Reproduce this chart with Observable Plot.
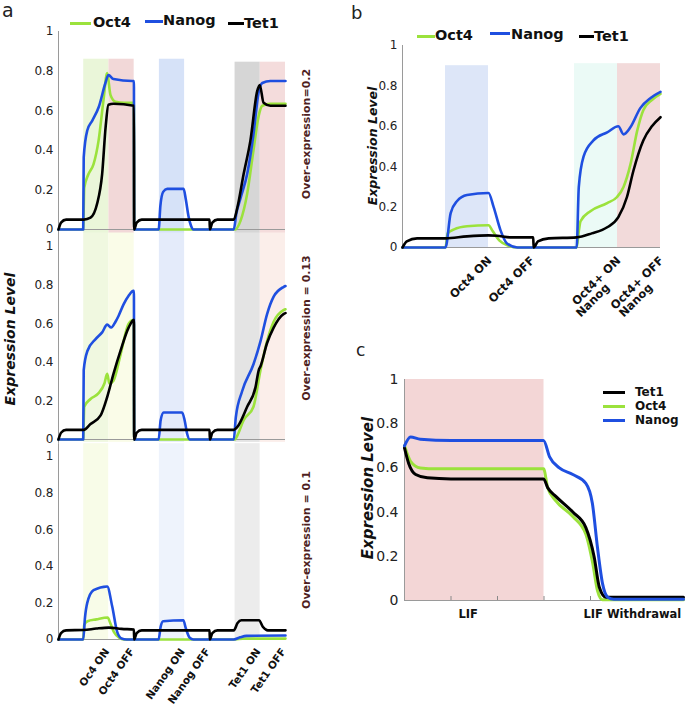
<!DOCTYPE html>
<html><head><meta charset="utf-8">
<script src="https://cdn.jsdelivr.net/npm/d3@7"></script>
<script src="https://cdn.jsdelivr.net/npm/@observablehq/plot@0.6"></script>
<style>
body{margin:0;background:#fff;}
#root{position:relative;width:685px;height:708px;overflow:hidden;font-family:"DejaVu Sans",sans-serif;background:#fff;}
.txt{position:absolute;white-space:nowrap;line-height:1;}
.sw{position:absolute;height:3px;}
.rot{position:absolute;white-space:nowrap;line-height:1;transform:translate(-50%,-50%) rotate(-90deg);}
</style></head><body><div id="root"></div>
<script>
// ---------- data ----------
const genes = ["Oct4", "Nanog", "Tet1"];
const yTicks = [0, 0.2, 0.4, 0.6, 0.8, 1];

// Panel a (time units: 3 per perturbation block)
const a1Oct4 = [[0,0],[0.98,0],[1.02,0.21],[1.19,0.28],[1.39,0.33],[1.59,0.45],[1.78,0.65],[1.93,0.79],[2.06,0.68],[2.26,0.645],[2.6,0.64],[2.99,0.64],[3.0,0],[7.0,0],[7.22,0.045],[7.48,0.18],[7.73,0.40],[7.93,0.57],[8.08,0.625],[8.4,0.635],[9,0.635]];
const a1Nanog = [[0,0],[0.98,0],[1.0,0.365],[1.14,0.5],[1.34,0.55],[1.6,0.62],[1.86,0.74],[1.98,0.78],[2.18,0.76],[2.93,0.75],[2.99,0.75],[3.0,0],[3.97,0],[4.04,0.12],[4.15,0.19],[4.31,0.205],[4.96,0.205],[5.05,0.15],[5.15,0.07],[5.25,0.02],[5.35,0],[6.95,0],[7.05,0.08],[7.22,0.16],[7.48,0.28],[7.73,0.48],[7.93,0.69],[8.08,0.74],[8.4,0.75],[9,0.75]];
const a1Tet1 = [[0,0],[0.1,0.035],[0.3,0.05],[1.0,0.05],[1.27,0.06],[1.53,0.13],[1.73,0.28],[1.87,0.52],[1.98,0.63],[2.18,0.635],[2.99,0.625],[3.0,0],[3.1,0.035],[3.3,0.05],[5.99,0.05],[6.0,0],[6.1,0.035],[6.3,0.05],[6.95,0.05],[7.09,0.11],[7.34,0.28],[7.61,0.45],[7.88,0.70],[7.98,0.73],[8.13,0.64],[8.4,0.625],[9,0.625]];

const a2Oct4 = [[0,0],[0.98,0],[1.02,0.17],[1.27,0.21],[1.59,0.24],[1.82,0.29],[1.93,0.34],[2.02,0.29],[2.18,0.305],[2.46,0.44],[2.78,0.6],[2.99,0.62],[3.0,0],[7.0,0],[7.09,0.02],[7.34,0.1],[7.73,0.17],[8.01,0.36],[8.27,0.51],[8.53,0.61],[8.92,0.67],[9,0.675]];
const a2Nanog = [[0,0],[0.98,0],[1.0,0.36],[1.15,0.46],[1.47,0.52],[1.73,0.555],[1.93,0.595],[2.09,0.58],[2.26,0.61],[2.38,0.64],[2.58,0.70],[2.78,0.745],[2.97,0.77],[2.99,0.77],[3.0,0],[3.97,0],[4.05,0.1],[4.17,0.14],[4.9,0.14],[5.0,0.1],[5.1,0.03],[5.2,0],[6.95,0],[7.03,0.115],[7.28,0.25],[7.73,0.39],[8.01,0.51],[8.27,0.65],[8.53,0.74],[8.92,0.79],[9,0.795]];
const a2Tet1 = [[0,0],[0.1,0.035],[0.3,0.05],[1.0,0.05],[1.27,0.08],[1.67,0.125],[1.93,0.22],[2.18,0.34],[2.46,0.46],[2.78,0.58],[2.99,0.62],[3.0,0],[3.1,0.035],[3.3,0.05],[5.99,0.05],[6.0,0],[6.1,0.035],[6.3,0.05],[6.95,0.05],[7.09,0.065],[7.48,0.17],[7.81,0.27],[7.94,0.36],[8.01,0.38],[8.27,0.50],[8.53,0.58],[8.92,0.65],[9,0.655]];

const a3Oct4 = [[0,0],[0.98,0],[1.02,0.08],[1.15,0.1],[1.5,0.11],[1.95,0.12],[2.05,0.09],[2.2,0.04],[2.4,0.01],[2.6,0],[7.0,0],[7.3,0.005],[9,0.005]];
const a3Nanog = [[0,0],[0.98,0],[1.05,0.12],[1.14,0.2],[1.39,0.27],[1.93,0.29],[2.13,0.18],[2.33,0.04],[2.5,0.005],[2.7,0],[3.97,0],[4.05,0.07],[4.15,0.1],[4.95,0.105],[5.05,0.06],[5.2,0.01],[5.35,0],[6.95,0],[7.2,0.012],[7.45,0.02],[9,0.022]];
const a3Tet1 = [[0,0],[0.1,0.035],[0.3,0.05],[1.0,0.052],[1.5,0.06],[2.0,0.065],[2.5,0.058],[2.99,0.055],[3.0,0],[3.1,0.035],[3.3,0.05],[5.99,0.05],[6.0,0],[6.1,0.035],[6.3,0.05],[6.95,0.05],[7.1,0.09],[7.25,0.105],[7.95,0.105],[8.1,0.07],[8.3,0.05],[9,0.05]];

const aShadeStart = [1, 2, 4, 7, 8];
const aShadeEnd   = [2, 3, 5, 8, 9];
const a1ShadeTop  = [0.86, 0.86, 0.86, 0.845, 0.845];
const aTickPos    = [2, 3, 5, 6, 8, 9];
const aTickLabels = ["Oc4 ON", "Oct4 OFF", "Nanog ON", "Nanog OFF", "Tet1 ON", "Tet1 OFF"];
const aOverExpr   = ["Over-expression=0.2", "Over-expression = 0.13", "Over-expression = 0.1"];

// Panel b
const bOct4 = [[0,0],[1.0,0],[1.05,0.07],[1.2,0.09],[1.5,0.105],[2.0,0.11],[2.1,0.08],[2.25,0.035],[2.45,0.01],[2.7,0],[4.05,0],[4.1,0.08],[4.14,0.13],[4.37,0.18],[4.76,0.22],[4.99,0.25],[5.14,0.30],[5.3,0.41],[5.46,0.58],[5.6,0.68],[5.8,0.73],[6,0.76]];
const bNanog = [[0,0],[1.0,0],[1.12,0.17],[1.27,0.23],[1.5,0.26],[2.0,0.27],[2.12,0.2],[2.28,0.085],[2.43,0.02],[2.67,0],[4.05,0],[4.1,0.30],[4.21,0.45],[4.44,0.53],[4.76,0.57],[5.02,0.60],[5.14,0.56],[5.3,0.595],[5.53,0.69],[5.77,0.74],[6,0.77]];
const bTet1 = [[0,0],[0.1,0.03],[0.34,0.045],[1.0,0.045],[1.5,0.055],[2.0,0.06],[2.2,0.058],[2.5,0.05],[3.04,0.05],[3.05,0],[3.15,0.03],[3.4,0.045],[4.05,0.05],[4.4,0.07],[4.76,0.10],[5.02,0.15],[5.22,0.25],[5.37,0.38],[5.6,0.53],[5.8,0.6],[6,0.645]];
const bShadeStart = [1, 4, 5];
const bShadeEnd   = [2, 5, 6];
const bShadeTop   = [0.9, 0.91, 0.91];
const bTickPos    = [2, 3, 5, 6];
const bTickLabels = ["Oct4 ON", "Oct4 OFF", "Oct4+ ON", "Oct4+ OFF"];
const bTickLabels2 = ["", "", "Nanog", "Nanog"];

// Panel c
const cTet1 = [[0,0.69],[0.09,0.62],[0.24,0.57],[0.49,0.555],[1,0.55],[2.99,0.55],[3.08,0.51],[3.26,0.47],[3.62,0.40],[3.9,0.33],[4.08,0.196],[4.19,0.06],[4.33,0.015],[6,0.015]];
const cOct4 = [[0,0.70],[0.13,0.63],[0.34,0.60],[0.7,0.596],[2.99,0.596],[3.08,0.51],[3.26,0.45],[3.62,0.38],[3.9,0.30],[4.05,0.166],[4.15,0.045],[4.26,0.003],[6,0.003]];
const cNanog = [[0,0.70],[0.13,0.74],[0.34,0.73],[1,0.724],[2.99,0.724],[3.12,0.65],[3.33,0.60],[3.62,0.57],[3.9,0.53],[4.04,0.44],[4.15,0.24],[4.26,0.075],[4.37,0.015],[4.5,0.006],[6,0.006]];
const cShadeStart = [0];
const cShadeEnd = [3];
const cMinorTicks = [1, 2, 3, 4, 5];
const cLabelPos = [1.37, 4.9];
const cLabels = ["LIF", "LIF Withdrawal"];

// ---------- styles ----------
const C = {Oct4: "#9be23c", Nanog: "#1f4fe0", Tet1: "#000000"};
const axisGray = "#9a9a9a";
const a1Fills = ["#eaf6d9", "#f2d8d8", "#d6e2f8", "#d6d6d6", "#f4dcdc"];
const a2Fills = ["#f0f8e0", "#fafce8", "#e4ebfa", "#e4e4e4", "#fbeeea"];
const a3Fills = ["#f8fce8", "#ffffff", "#eef3fc", "#ececec", "#ffffff"];
const bFills  = ["#dde6f8", "#ebfaf6", "#f2dada"];
const cFills  = ["#f3d6d6"];

const root = document.getElementById("root");

function place(el, left, top) {
  el.style.position = "absolute"; el.style.left = left + "px"; el.style.top = top + "px";
  root.appendChild(el);
}

function shadeMarks(starts, ends, tops, bottoms, fills) {
  return starts.map((s, i) => Plot.rect([0], {x1: () => s, x2: () => ends[i], y1: () => bottoms, y2: () => tops[i], fill: fills[i]}));
}

function lineMarks(series, sw) {
  return series.map(([name, pts]) => Plot.line(pts, {x: d => d[0], y: d => d[1], stroke: C[name], strokeWidth: sw, curve: "monotone-x"}));
}

function makePlot(o) {
  return Plot.plot({
    width: o.width, height: o.height,
    marginTop: o.mt, marginBottom: o.mb, marginLeft: o.ml, marginRight: o.mr,
    x: {domain: o.xDomain, axis: null},
    y: {domain: [0, 1], ticks: yTicks, tickSize: 0, tickPadding: o.tickPad ?? 5, tickFormat: d3.format("~g"), label: null},
    style: {background: "transparent", fontFamily: "DejaVu Sans", fontSize: o.fontSize ?? "12px", color: "#222", overflow: "visible"},
    marks: [
      ...o.shades,
      Plot.ruleY([0], {x1: o.xDomain[0], x2: o.xDomain[1], stroke: axisGray, strokeWidth: 1}),
      Plot.ruleX([o.xDomain[0]], {y1: o.axisBottom ?? 0, y2: o.axisTop ?? 1, stroke: axisGray, strokeWidth: 1}),
      ...(o.extraBelow || []),
      ...lineMarks(o.series, o.sw ?? 2.6),
      ...(o.extra || [])
    ]
  });
}

// ---------- panel a ----------
const a1 = makePlot({
  width: 340, height: 232, mt: 31, mb: 3, ml: 58, mr: 55, xDomain: [0, 9],
  axisBottom: -0.02,
  shades: shadeMarks(aShadeStart, aShadeEnd, a1ShadeTop, -0.02, a1Fills),
  series: [["Oct4", a1Oct4], ["Nanog", a1Nanog], ["Tet1", a1Tet1]]
});
place(a1, 0, 0);

const a2 = makePlot({
  width: 340, height: 210, mt: 14, mb: 3, ml: 58, mr: 55, xDomain: [0, 9],
  axisBottom: -0.02, axisTop: 1.07,
  shades: shadeMarks(aShadeStart, aShadeEnd, [1.07,1.07,1.07,1.07,1.07], -0.015, a2Fills),
  series: [["Oct4", a2Oct4], ["Nanog", a2Nanog], ["Tet1", a2Tet1]]
});
place(a2, 0, 232);

const a3 = makePlot({
  width: 340, height: 266, mt: 14, mb: 69, ml: 58, mr: 55, xDomain: [0, 9],
  axisTop: 1.07,
  shades: shadeMarks(aShadeStart, aShadeEnd, [1.07,1.07,1.07,1.07,1.07], 0, a3Fills),
  series: [["Oct4", a3Oct4], ["Nanog", a3Nanog], ["Tet1", a3Tet1]],
  extra: [Plot.text(aTickPos, {x: d => d, y: () => 0, text: (d, i) => aTickLabels[i], rotate: -55, textAnchor: "end", dx: -2, dy: 10, fontSize: 10.5, fontWeight: "bold", fill: "#111"})]
});
place(a3, 0, 442);

// ---------- panel b ----------
const b = makePlot({
  width: 345, height: 300, mt: 45, mb: 53, ml: 62, mr: 25, xDomain: [0, 6],
  shades: shadeMarks(bShadeStart, bShadeEnd, bShadeTop, 0, bFills),
  series: [["Oct4", bOct4], ["Nanog", bNanog], ["Tet1", bTet1]],
  extra: [
    Plot.text(bTickPos, {x: d => d, y: () => 0, text: (d, i) => bTickLabels[i], rotate: -45, textAnchor: "end", lineAnchor: "top", dx: -2, dy: 8, fontSize: 11.5, fontWeight: "bold", fill: "#111"}),
    Plot.text(bTickPos, {x: d => d, y: () => 0, text: (d, i) => bTickLabels2[i], rotate: -45, textAnchor: "end", lineAnchor: "top", dx: -13, dy: 35, fontSize: 11.5, fontWeight: "bold", fill: "#111"})
  ]
});
place(b, 340, 0);

// ---------- panel c ----------
const c = makePlot({
  width: 345, height: 300, mt: 49, mb: 30, ml: 64, mr: 2, xDomain: [0, 6],
  fontSize: "14px", tickPad: 6, sw: 3,
  shades: shadeMarks(cShadeStart, cShadeEnd, [1], 0, cFills),
  series: [["Oct4", cOct4], ["Tet1", cTet1], ["Nanog", cNanog]],
  extraBelow: [Plot.ruleX(cMinorTicks, {x: d => d, y1: 0, y2: 0.018, stroke: "#888", strokeWidth: 1})],
  extra: [Plot.text(cLabelPos, {x: d => d, y: () => 0, text: (d, i) => cLabels[i], dy: 14, fontSize: 11.5, fontWeight: "bold", fill: "#111"})]
});
place(c, 340, 330);

// ---------- text overlays ----------
function txt(s, left, top, css) {
  const d = document.createElement("div"); d.className = "txt"; d.textContent = s;
  Object.assign(d.style, css || {}); d.style.left = left + "px"; d.style.top = top + "px";
  root.appendChild(d); return d;
}
function rot(s, cx, cy, css) {
  const d = document.createElement("div"); d.className = "rot"; d.textContent = s;
  Object.assign(d.style, css || {}); d.style.left = cx + "px"; d.style.top = cy + "px";
  root.appendChild(d); return d;
}
function sw(color, left, top, w) {
  const d = document.createElement("div"); d.className = "sw";
  d.style.background = color; d.style.left = left + "px"; d.style.top = (top - 1.5) + "px"; d.style.width = w + "px";
  root.appendChild(d);
}
const legFont = {fontWeight: "bold", fontSize: "14.5px", color: "#111"};

txt("a", 2, 1, {fontSize: "19px", color: "#222"});
txt("b", 351, 4, {fontSize: "18px", color: "#222"});
txt("c", 356, 342, {fontSize: "17px", color: "#222"});

// legend a
sw(C.Oct4, 70, 23, 21); txt(genes[0], 93, 15.3, legFont);
sw(C.Nanog, 145, 21, 18); txt(genes[1], 163, 13.3, legFont);
sw(C.Tet1, 228, 23.5, 16); txt(genes[2], 244, 16.3, legFont);

// legend b
sw(C.Oct4, 417, 36.7, 18); txt(genes[0], 435, 28.3, legFont);
sw(C.Nanog, 490, 33.3, 20); txt(genes[1], 511, 26.6, legFont);
sw(C.Tet1, 579, 36.7, 15); txt(genes[2], 594, 29, legFont);

// legend c
const cLegOrder = ["Tet1", "Oct4", "Nanog"];
const cLegY = [392.3, 406.3, 420.3];
cLegOrder.forEach((g, i) => { sw(C[g], 603, cLegY[i], 22); txt(g, 635, cLegY[i] - 6.5, {fontWeight: "bold", fontSize: "12px", lineHeight: "12px", color: "#111"}); });

// y labels
const ylab = {fontWeight: "bold", fontStyle: "italic", color: "#111"};
rot("Expression Level", 10, 339, {...ylab, fontSize: "14px"});
rot("Expression Level", 373, 146, {...ylab, fontSize: "12.5px"});
rot("Expression Level", 368, 488, {...ylab, fontSize: "15px"});

// over-expression labels
const oeCss = {fontWeight: "bold", fontSize: "11px", color: "#4f1f1f"};
rot(aOverExpr[0], 306, 134, oeCss);
rot(aOverExpr[1], 306, 328, oeCss);
rot(aOverExpr[2], 306, 540, oeCss);
</script></body></html>
